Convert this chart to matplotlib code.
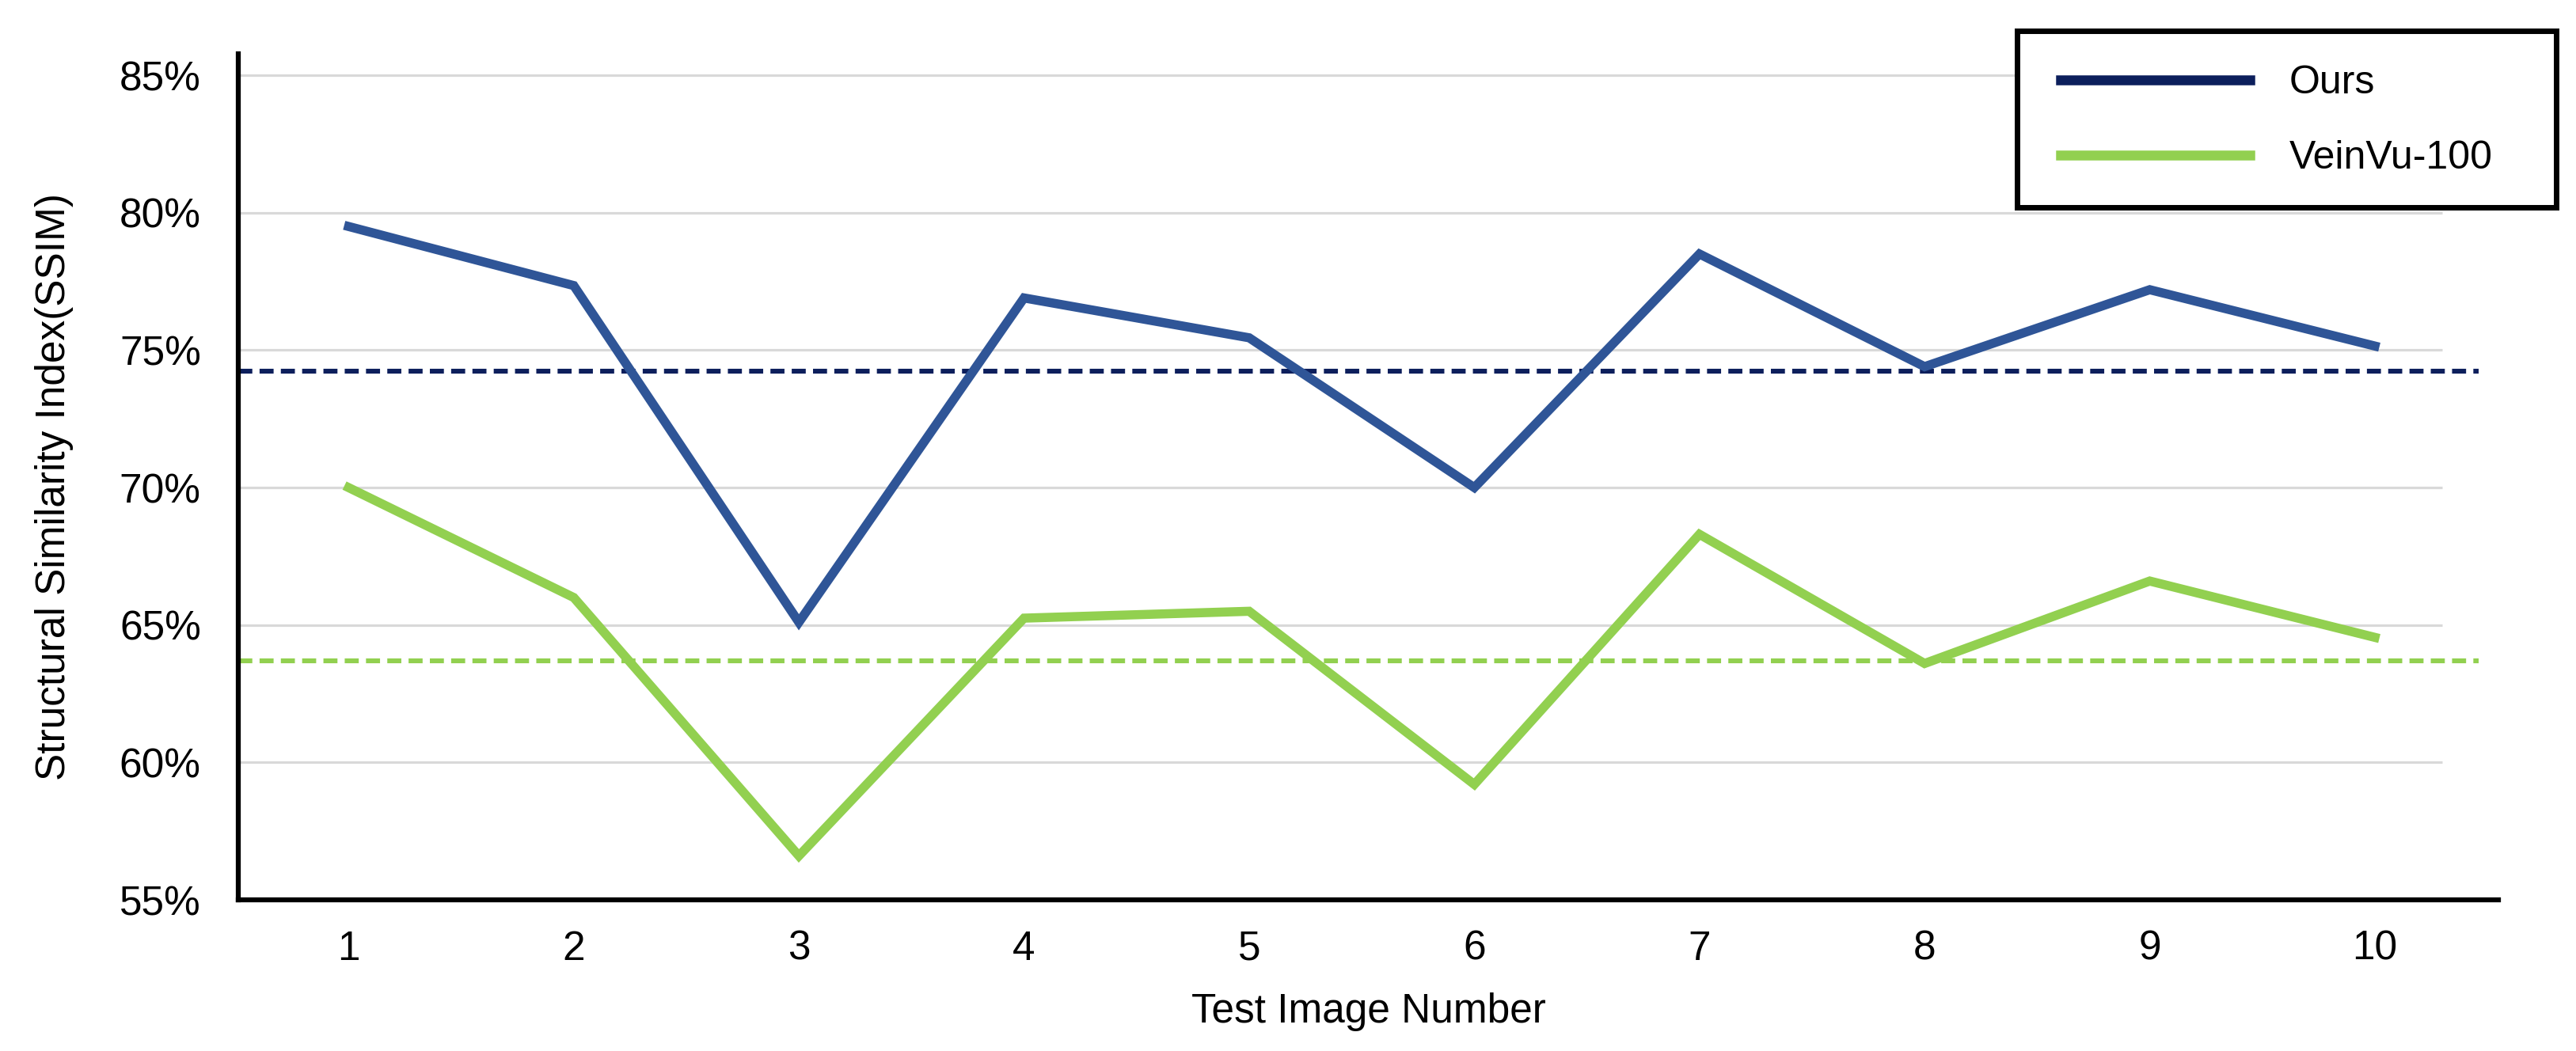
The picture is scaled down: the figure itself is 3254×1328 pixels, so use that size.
import matplotlib
matplotlib.use("Agg")
import matplotlib.pyplot as plt
from matplotlib.ticker import FuncFormatter
from matplotlib.patches import Rectangle

plt.rcParams['font.family'] = ['Liberation Sans', 'DejaVu Sans']

images = [1, 2, 3, 4, 5, 6, 7, 8, 9, 10]
ours = [79.5, 77.35, 65.1, 76.9, 75.45, 70.0, 78.5, 74.4, 77.2, 75.15]
veinvu = [70.0, 66.0, 56.6, 65.25, 65.5, 59.2, 68.3, 63.6, 66.6, 64.55]
ours_avg = 74.25
veinvu_avg = 63.7
yticks = [55, 60, 65, 70, 75, 80, 85]

W, H = 3254, 1328
fig = plt.figure(figsize=(W / 100, H / 100), dpi=100)
ax = fig.add_axes([0.0925, 0.1438, 0.8775, 0.8052])

xmin, xmax = 0.51, 10.55
ax.set_xlim(xmin, xmax)
ax.set_ylim(55, 85.79)

# gridlines
ax.hlines(yticks[1:], xmin, 10.3, colors='#D9D9D9', linewidth=2.3, zorder=1)

ax.plot(images, ours, color='#2F5597', linewidth=8.3, solid_joinstyle='miter', zorder=3)
ax.plot(images, veinvu, color='#92D050', linewidth=8.3, solid_joinstyle='miter', zorder=3)
ax.hlines([ours_avg], xmin, 10.46, colors='#0D1F5C', linewidth=4.4,
          linestyles=(0, (2.9, 1.5)), zorder=2)
ax.hlines([veinvu_avg], xmin, 10.46, colors='#92D050', linewidth=4.4,
          linestyles=(0, (2.9, 1.5)), zorder=2)

# legend frame (drawn in figure pixels)
fig.patches.append(Rectangle((2548 / W, 1 - 262 / H), (3229 - 2548) / W, (262 - 39) / H,
                             transform=fig.transFigure, fill=True, facecolor='white',
                             edgecolor='black', linewidth=5, zorder=5))

# legend proxies
h1, = ax.plot([], [], color='#0C1F5C', linewidth=9, label='Ours')
h2, = ax.plot([], [], color='#92D050', linewidth=9, label='VeinVu-100')
leg = fig.legend(handles=[h1, h2], loc='upper left',
                 bbox_to_anchor=(2603 / W, 1 - 82 / H), fontsize=36, handlelength=4.78,
                 handletextpad=1.0, labelspacing=0.98, borderpad=0,
                 borderaxespad=0, frameon=False)
leg.set_zorder(6)

ax.set_xticks(images)
ax.set_xticklabels([str(i) for i in images])
ax.set_yticks(yticks)
ax.yaxis.set_major_formatter(FuncFormatter(lambda v, p: f"{int(round(v))}%"))
ax.tick_params(axis='both', length=0, colors='black', labelsize=37)
ax.tick_params(axis='y', pad=34)
ax.tick_params(axis='x', pad=27)

for s in ['top', 'right']:
    ax.spines[s].set_visible(False)
for s in ['left', 'bottom']:
    ax.spines[s].set_linewidth(4.5)
    ax.spines[s].set_color('black')

ax.set_xlabel('Test Image Number', fontsize=37, labelpad=22)
fig.text(0.0209, 0.5367, 'Structural Similarity Index(SSIM)', rotation=90,
         fontsize=37, ha='center', va='center')

fig.savefig('out.png', dpi=100, facecolor='white')
